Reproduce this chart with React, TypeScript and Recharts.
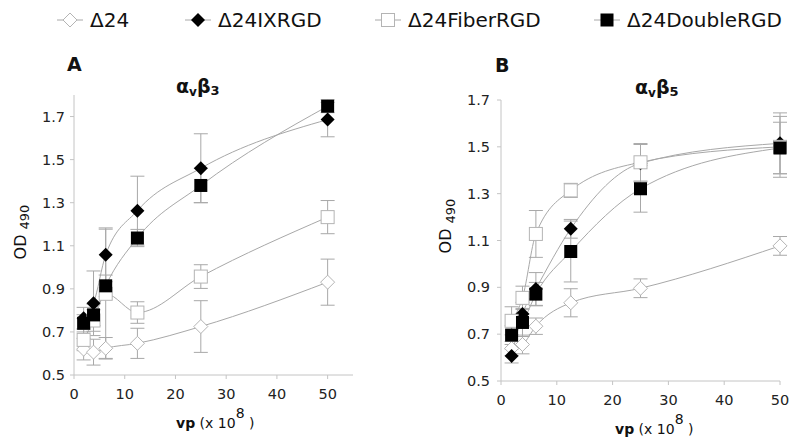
import React from "react";
import { LineChart, Line, XAxis, YAxis, ErrorBar } from "recharts";

// virus particles (x 10^8)
const xs = [1.9, 3.85, 6.25, 12.5, 25, 50];
const seriesNames = ["Δ24", "Δ24IXRGD", "Δ24FiberRGD", "Δ24DoubleRGD"];
const seriesKinds = ["openDiamond", "filledDiamond", "openSquare", "filledSquare"];

// panel A: alpha-v beta-3
const a24 = [0.62, 0.606, 0.624, 0.647, 0.725, 0.931];
const aIX = [0.764, 0.833, 1.058, 1.263, 1.46, 1.686];
const aFiber = [0.663, 0.753, 0.877, 0.79, 0.957, 1.233];
const aDouble = [0.74, 0.779, 0.914, 1.136, 1.38, 1.748];
const a24Err = [0.05, 0.06, 0.05, 0.07, 0.12, 0.107];
const aIXErr = [0.05, 0.15, 0.125, 0.16, 0.16, 0.08];
const aFiberErr = [0.05, 0.05, 0.3, 0.05, 0.055, 0.077];
const aDoubleErr = [0.04, 0.05, 0.05, 0.04, 0.08, 0.03];

// panel B: alpha-v beta-5
const b24 = [0.639, 0.656, 0.734, 0.834, 0.896, 1.077];
const bIX = [0.607, 0.786, 0.893, 1.15, 1.43, 1.515];
const bFiber = [0.757, 0.855, 1.128, 1.314, 1.434, 1.5];
const bDouble = [0.696, 0.75, 0.871, 1.053, 1.321, 1.495];
const b24Err = [0.03, 0.04, 0.035, 0.06, 0.04, 0.04];
const bIXErr = [0.03, 0.05, 0.07, 0.04, 0.08, 0.13];
const bFiberErr = [0.06, 0.05, 0.1, 0.03, 0.08, 0.13];
const bDoubleErr = [0.04, 0.06, 0.05, 0.13, 0.1, 0.11];

const xTicks = [0, 10, 20, 30, 40, 50];
const yTicks = [0.5, 0.7, 0.9, 1.1, 1.3, 1.5, 1.7];

const FONT = "'DejaVu Sans', Verdana, sans-serif";
const LINE = "#a8a8a8";
const OPEN = "#b4b4b4";

function buildRows(vals: number[][], errs: number[][]) {
  return xs.map((x, i) => {
    const row: any = { x };
    vals.forEach((v, s) => { row["s" + s] = v[i]; row["e" + s] = errs[s][i]; });
    return row;
  });
}

const dataA = buildRows([a24, aIX, aFiber, aDouble], [a24Err, aIXErr, aFiberErr, aDoubleErr]);
const dataB = buildRows([b24, bIX, bFiber, bDouble], [b24Err, bIXErr, bFiberErr, bDoubleErr]);

function Marker({ cx, cy, kind }: { cx?: number; cy?: number; kind: string }) {
  if (cx == null || cy == null) return null;
  if (kind === "openDiamond" || kind === "filledDiamond") {
    const r = 7;
    const pts = `${cx},${cy - r} ${cx + r},${cy} ${cx},${cy + r} ${cx - r},${cy}`;
    return kind === "openDiamond"
      ? <polygon points={pts} fill="#fff" stroke={OPEN} strokeWidth={1} />
      : <polygon points={pts} fill="#000" />;
  }
  const h = 6.5;
  return kind === "openSquare"
    ? <rect x={cx - h} y={cy - h} width={h * 2} height={h * 2} fill="#fff" stroke={OPEN} strokeWidth={1} />
    : <rect x={cx - h} y={cy - h} width={h * 2} height={h * 2} fill="#000" />;
}

function Panel({ data, left, width, margin, domainX, domainY, yTickMargin }: any) {
  return (
    <div style={{ position: "absolute", left, top: 0 }}>
      <LineChart width={width} height={447} data={data} margin={margin}>
        <XAxis
          type="number" dataKey="x" domain={domainX} ticks={xTicks} height={30}
          tick={{ fontSize: 14.5, fill: "#222", fontFamily: FONT }}
          tickSize={4} tickMargin={10}
          axisLine={{ stroke: "#c4c4c4" }} tickLine={{ stroke: "#c4c4c4" }}
        />
        <YAxis
          type="number" domain={domainY} ticks={yTicks} width={margin.yw}
          tick={{ fontSize: 14.5, fill: "#222", fontFamily: FONT }}
          tickFormatter={(v: number) => v.toFixed(1)}
          tickSize={4} tickMargin={yTickMargin}
          axisLine={{ stroke: "#c4c4c4" }} tickLine={{ stroke: "#c4c4c4" }}
        />
        {seriesKinds.map((k, s) => (
          <Line
            key={k} dataKey={"s" + s} type="monotone" stroke={LINE} strokeWidth={1}
            isAnimationActive={false}
            dot={(p: any) => <Marker key={"d" + p.index} cx={p.cx} cy={p.cy} kind={k} />}
            activeDot={false}
          >
            <ErrorBar dataKey={"e" + s} width={7} stroke={LINE} strokeWidth={1} direction="y" isAnimationActive={false} />
          </Line>
        ))}
      </LineChart>
    </div>
  );
}

const legendLeft = [57, 185, 375, 594];

function Legend() {
  return (
    <>
      {seriesNames.map((name, i) => (
        <div key={name} style={{ position: "absolute", left: legendLeft[i], top: 8, height: 24, display: "flex", alignItems: "center" }}>
          <svg width={26} height={24}>
            <line x1={0} y1={12} x2={26} y2={12} stroke={LINE} strokeWidth={1} />
            <Marker cx={13} cy={12} kind={seriesKinds[i]} />
          </svg>
          <span style={{ marginLeft: 7, fontSize: 20, color: "#111", fontFamily: FONT, lineHeight: "24px" }}>{name}</span>
        </div>
      ))}
    </>
  );
}

function Labels() {
  return (
    <svg width={800} height={447} style={{ position: "absolute", left: 0, top: 0, pointerEvents: "none" }} fontFamily={FONT} fill="#111">
      <text x={67} y={71} fontSize={19} fontWeight="bold">A</text>
      <text x={495} y={72} fontSize={19} fontWeight="bold">B</text>
      <text x={176} y={93} fontSize={19} fontWeight="bold">
        α<tspan fontSize={12} dy={3}>v</tspan><tspan fontSize={19} dy={-3}>β</tspan><tspan fontSize={13} dy={2}>3</tspan>
      </text>
      <text x={635} y={94} fontSize={19} fontWeight="bold">
        α<tspan fontSize={12} dy={3}>v</tspan><tspan fontSize={19} dy={-3}>β</tspan><tspan fontSize={13} dy={2}>5</tspan>
      </text>
      <text transform="translate(26,232) rotate(-90)" textAnchor="middle" fontSize={16}>
        OD <tspan fontSize={13} dy={3}>490</tspan>
      </text>
      <text transform="translate(451,226) rotate(-90)" textAnchor="middle" fontSize={16}>
        OD <tspan fontSize={13} dy={4}>490</tspan>
      </text>
      <text x={176} y={428} fontSize={14}>
        <tspan fontWeight="bold">vp</tspan> (x 10<tspan dy={-10}>8</tspan><tspan dy={10}> )</tspan>
      </text>
      <text x={615} y={434} fontSize={14}>
        <tspan fontWeight="bold">vp</tspan> (x 10<tspan dy={-10}>8</tspan><tspan dy={10}> )</tspan>
      </text>
    </svg>
  );
}

export default function App() {
  return (
    <div style={{ position: "absolute", left: 0, top: 0, width: 800, height: 447, background: "#fff", fontFamily: FONT }}>
      <Legend />
      <Panel
        data={dataA} left={0} width={380}
        margin={{ top: 95, right: 27, bottom: 42, left: 0, yw: 74 }}
        domainX={[0, 55]} domainY={[0.5, 1.8]} yTickMargin={5}
      />
      <Panel
        data={dataB} left={400} width={400}
        margin={{ top: 100, right: 20, bottom: 36, left: 0, yw: 101 }}
        domainX={[0, 50]} domainY={[0.5, 1.7]} yTickMargin={7}
      />
      <Labels />
    </div>
  );
}
